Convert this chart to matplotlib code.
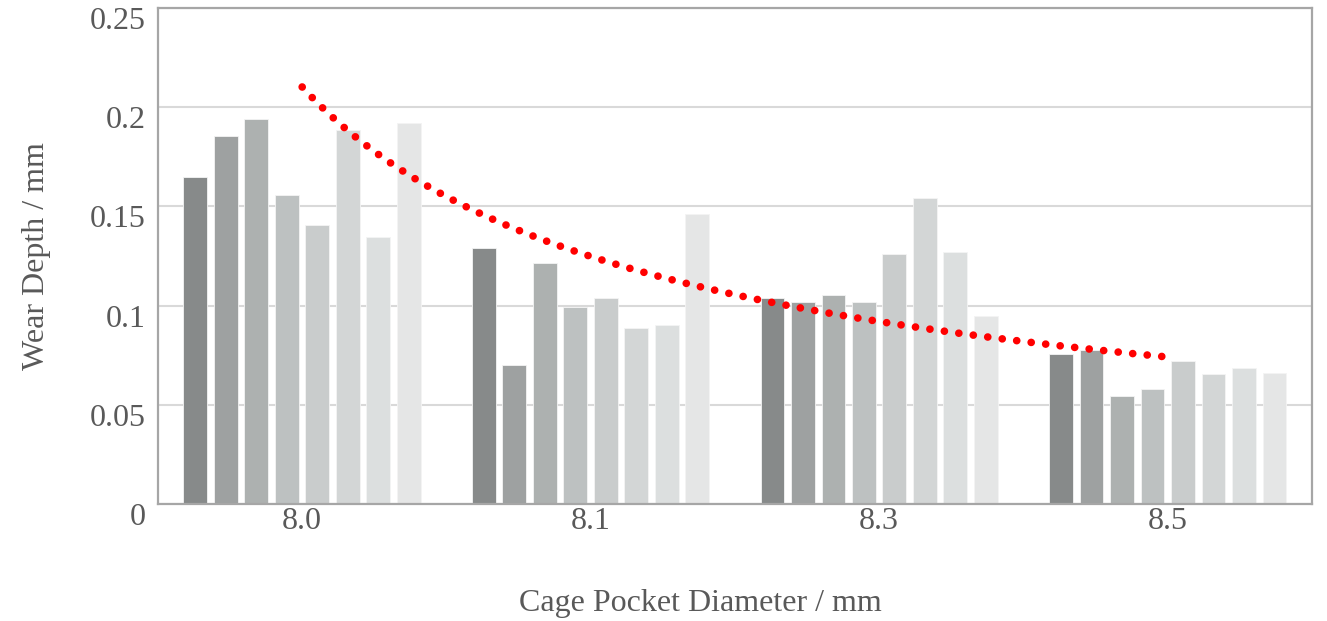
import numpy as np
import matplotlib
matplotlib.use('Agg')
import matplotlib.pyplot as plt
import matplotlib.transforms as mtransforms

# === Data ===
diameters = ['8.0', '8.1', '8.3', '8.5']

# 8 samples per pocket diameter (wear depth, mm)
wear = [
    [0.165, 0.1855, 0.194, 0.1556, 0.1406, 0.1883, 0.1346, 0.192],
    [0.1289, 0.0699, 0.1215, 0.0995, 0.1037, 0.0885, 0.0900, 0.146],
    [0.1038, 0.1016, 0.1053, 0.1018, 0.126, 0.1542, 0.1272, 0.0948],
    [0.0754, 0.0775, 0.0543, 0.0581, 0.0722, 0.0655, 0.0684, 0.0659],
]

# trend line level at each category (power trend, Excel style)
trend_at_groups = [0.210, 0.125, 0.092, 0.074]

bar_colors = ['#878a8a', '#9ea1a1', '#adb1b0', '#bdc1c1',
              '#c9cccc', '#d3d6d6', '#dcdfdf', '#e5e6e6']

# === Figure ===
plt.rcParams['font.family'] = ['Liberation Serif', 'DejaVu Serif']
text_color = '#595959'
frame_color = '#a6a6a6'

fig = plt.figure(figsize=(13.27, 6.21), dpi=100)
ax = fig.add_axes([0.119, 0.1884, 0.8697, 0.7987])

n_series = len(bar_colors)
step = 0.1057
width = 0.083
x = np.arange(len(diameters))
for j in range(n_series):
    vals = [g[j] for g in wear]
    offs = (j - (n_series - 1) / 2) * step
    ax.bar(x + offs, vals, width=width, color=bar_colors[j],
           edgecolor='#f4f4f4', linewidth=0.6, zorder=2)

# power trend fitted through the read trend levels
cat = np.arange(1, len(trend_at_groups) + 1)
b, loga = np.polyfit(np.log(cat), np.log(trend_at_groups), 1)
xs = np.linspace(1, len(trend_at_groups), 300)
ys = np.exp(loga) * xs ** b
ax.plot(xs - 1, ys, color='#ff0000', linewidth=5.5,
        linestyle=(0, (0.01, 1.9)), dash_capstyle='round', zorder=3)

ax.set_xlim(-0.5, len(diameters) - 0.5)
ax.set_ylim(0, 0.25)
ax.set_yticks([0, 0.05, 0.1, 0.15, 0.2, 0.25])
ax.set_yticklabels(['0', '0.05', '0.1', '0.15', '0.2', '0.25'])
ax.set_xticks(x)
ax.set_xticklabels(diameters)

ax.grid(axis='y', color='#d9d9d9', linewidth=1.5, zorder=1)
ax.set_axisbelow(True)
for s in ax.spines.values():
    s.set_color(frame_color)
    s.set_linewidth(1.6)
ax.tick_params(axis='both', length=0, labelsize=23, colors=text_color)
ax.tick_params(axis='y', pad=9)
ax.tick_params(axis='x', pad=2)

# y labels sit a little below their gridlines in the reference
shift = mtransforms.ScaledTranslation(0, -10 / 100, fig.dpi_scale_trans)
for lab in ax.get_yticklabels():
    lab.set_transform(lab.get_transform() + shift)

ax.set_xlabel('Cage Pocket Diameter / mm', fontsize=23, color=text_color, va='center')
ax.xaxis.set_label_coords(0.47, -0.2)
ax.set_ylabel('Wear Depth / mm', fontsize=23, color=text_color, labelpad=28)

fig.savefig('out.png', dpi=100)
